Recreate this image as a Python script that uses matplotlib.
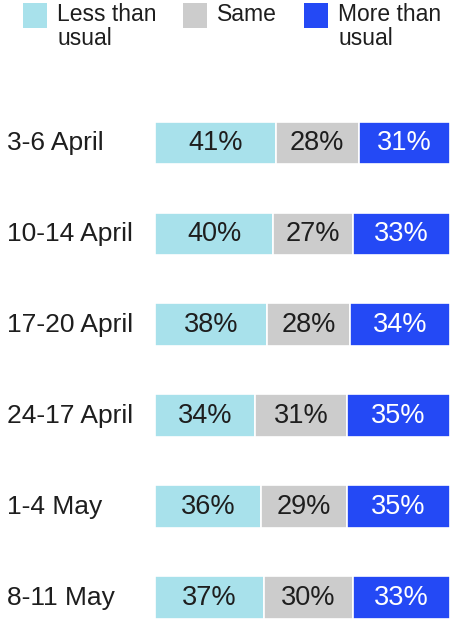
import numpy as np
import matplotlib.pyplot as plt
from matplotlib.patches import Rectangle
from matplotlib.transforms import blended_transform_factory

periods = ['3-6 April', '10-14 April', '17-20 April', '24-17 April', '1-4 May', '8-11 May']
less = [41, 40, 38, 34, 36, 37]
same = [28, 27, 28, 31, 29, 30]
more = [31, 33, 34, 35, 35, 33]

series_names = ['Less than\nusual', 'Same', 'More than\nusual']
series_colors = ['#a8e1eb', '#cccccc', '#2449f5']
text_colors = ['#1e1e1e', '#1e1e1e', 'white']

plt.rcParams.update({'font.family': ['Liberation Sans', 'DejaVu Sans']})

fig = plt.figure(figsize=(4.5, 6.2), dpi=100)
ax = fig.add_axes([155 / 450, 0, 295 / 450, 520 / 620])

y = np.arange(len(periods))
left = np.zeros(len(periods))
for vals, col, tcol in zip([less, same, more], series_colors, text_colors):
    vals = np.array(vals)
    ax.barh(y, vals, left=left, height=0.47, color=col, edgecolor='white', linewidth=1.2)
    for yi, l, v in zip(y, left, vals):
        ax.text(l + v / 2, yi, f'{v}%', ha='center', va='center', fontsize=19.5, color=tcol)
    left = left + vals

ax.set_xlim(0, 100)
ax.set_ylim(5.247, -0.473)
ax.axis('off')

# row labels, left aligned at figure edge
trans = blended_transform_factory(fig.transFigure, ax.transData)
for yi, p in zip(y, periods):
    ax.text(7 / 450, yi, p, transform=trans, ha='left', va='center', fontsize=19,
            color='#1e1e1e', clip_on=False)

# legend
leg_x = [23, 183, 304]
for lx, name, col in zip(leg_x, series_names, series_colors):
    fig.patches.append(Rectangle((lx / 450, 1 - 28 / 620), 24 / 450, 25 / 620,
                                 transform=fig.transFigure, facecolor=col, edgecolor='none'))
    fig.text((lx + 34) / 450, 1 - 3 / 620, name, ha='left', va='top', fontsize=16.5,
             color='#1e1e1e', linespacing=1.05)

fig.savefig('out.png', dpi=100)
